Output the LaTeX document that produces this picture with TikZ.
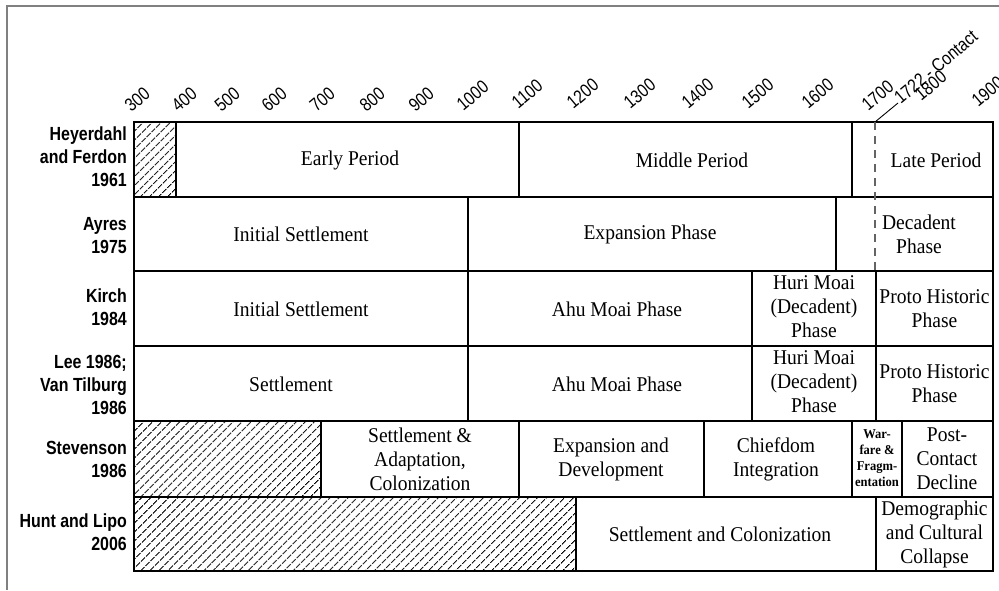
\documentclass[tikz,border=0pt]{standalone}
\usepackage{fontspec}
\setmainfont{Liberation Serif}[FakeStretch=0.93]
\newfontfamily\lblfont{Liberation Sans}[FakeStretch=0.84]
\newfontfamily\axfont{Liberation Sans}[FakeStretch=0.84]
\usetikzlibrary{patterns.meta}
\definecolor{framegray}{RGB}{128,128,128}
\definecolor{dashgray}{RGB}{100,100,100}
\begin{document}
\begin{tikzpicture}[x=1pt,y=-1pt,
  cell/.style={draw=black, line width=1.6pt},
  hatch/.style={pattern={Lines[angle=45,distance=6.4pt,line width=1.1pt]}},
  txt/.style={font=\fontsize{21}{24}\selectfont, align=center, inner sep=0},
  small/.style={font=\bfseries\fontsize{13.5}{16}\selectfont, align=center, inner sep=0},
  lbl/.style={font=\lblfont\bfseries\fontsize{19}{23}\selectfont, align=right, anchor=east, inner sep=0},
  ax/.style={font=\axfont\fontsize{18.5}{20}\selectfont, rotate=40, anchor=south west, inner sep=0},
]
\useasboundingbox (0,0) rectangle (999,590);
% outer frame (partial)
\draw[framegray, line width=1.4pt] (999,6) -- (7,6) -- (7,590);

% hatched areas
\fill[hatch] (134,122) rectangle (176,197);
\fill[hatch] (134,421) rectangle (321,497);
\fill[hatch] (134,497) rectangle (576,571);

% row 1
\draw[cell] (134,122) rectangle (176,197);
\draw[cell] (176,122) rectangle (519,197);
\draw[cell] (519,122) rectangle (852,197);
\draw[cell] (852,122) rectangle (993,197);
% row 2
\draw[cell] (134,197) rectangle (468,271);
\draw[cell] (468,197) rectangle (836,271);
\draw[cell] (836,197) rectangle (993,271);
% row 3
\draw[cell] (134,271) rectangle (468,346);
\draw[cell] (468,271) rectangle (752,346);
\draw[cell] (752,271) rectangle (876,346);
\draw[cell] (876,271) rectangle (993,346);
% row 4
\draw[cell] (134,346) rectangle (468,421);
\draw[cell] (468,346) rectangle (752,421);
\draw[cell] (752,346) rectangle (876,421);
\draw[cell] (876,346) rectangle (993,421);
% row 5
\draw[cell] (134,421) rectangle (321,497);
\draw[cell] (321,421) rectangle (519,497);
\draw[cell] (519,421) rectangle (704,497);
\draw[cell] (704,421) rectangle (852,497);
\draw[cell] (852,421) rectangle (902,497);
\draw[cell] (902,421) rectangle (993,497);
% row 6
\draw[cell] (134,497) rectangle (576,571);
\draw[cell] (576,497) rectangle (876,571);
\draw[cell] (876,497) rectangle (993,571);

% contact line
\coordinate (ctop) at (875,122);
\coordinate (cbot) at (875,271);
\coordinate (cend) at (898,103);
\draw[dashgray, line width=1.1pt, dash pattern=on 8pt off 6pt] (ctop) -- (cbot);
\draw[black, line width=0.9pt] (ctop) -- (cend);
\node[ax] (contact) at (901,105) {1722 - Contact};

% axis labels
\node[ax] (y300) at (131.5,113) {300};
\node[ax] (y400) at (178.5,113) {400};
\node[ax] (y500) at (221.5,113) {500};
\node[ax] (y600) at (268.5,113) {600};
\node[ax] (y700) at (316.5,113) {700};
\node[ax] (y800) at (366.5,113) {800};
\node[ax] (y900) at (415.5,113) {900};
\node[ax] (y1000) at (463.5,112) {1000};
\node[ax] (y1100) at (518.5,110) {1100};
\node[ax] (y1200) at (573.5,110) {1200};
\node[ax] (y1300) at (630.5,110) {1300};
\node[ax] (y1400) at (688.5,110) {1400};
\node[ax] (y1500) at (748.5,110) {1500};
\node[ax] (y1600) at (808.5,110) {1600};
\node[ax] (y1700) at (868.5,112) {1700};
\node[ax] (y1800) at (921.5,102) {1800};
\node[ax] (y1900) at (978.5,108) {1900};

% row labels
\node[lbl] (lHF) at (127,157) {Heyerdahl\\and Ferdon\\1961};
\node[lbl] (lAy) at (127,236) {Ayres\\1975};
\node[lbl] (lKi) at (127,307) {Kirch\\1984};
\node[lbl] (lLe) at (127,385) {Lee 1986;\\Van Tilburg\\1986};
\node[lbl] (lSt) at (127,459) {Stevenson\\1986};
\node[lbl] (lHL) at (127,532) {Hunt and Lipo\\2006};

% cell texts
\node[txt] (t11) at (350,160) {Early Period};
\node[txt] (t12) at (692,160) {Middle Period};
\node[txt] (t13) at (936,160) {Late Period};
\node[txt] (t21) at (301,234) {Initial Settlement};
\node[txt] (t22) at (650,234) {Expansion Phase};
\node[txt] (t23) at (919,234) {Decadent\\Phase};
\node[txt] (t31) at (301,309) {Initial Settlement};
\node[txt] (t32) at (617,309) {Ahu Moai Phase};
\node[txt] (t33) at (814,307) {Huri Moai\\(Decadent)\\Phase};
\node[txt] (t34) at (934.5,309) {Proto Historic\\Phase};
\node[txt] (t41) at (291,384) {Settlement};
\node[txt] (t42) at (617,384) {Ahu Moai Phase};
\node[txt] (t43) at (814,382) {Huri Moai\\(Decadent)\\Phase};
\node[txt] (t44) at (934.5,384) {Proto Historic\\Phase};
\node[txt] (t51) at (420,459) {Settlement \&\\Adaptation,\\Colonization};
\node[txt] (t52) at (611,459) {Expansion and\\Development};
\node[txt] (t53) at (776,459) {Chiefdom\\Integration};
\node[small] (t54) at (877,458) {War-\\fare \&\\Fragm-\\entation};
\node[txt] (t55) at (947,459) {Post-\\Contact\\Decline};
\node[txt] (t61) at (720,534) {Settlement and Colonization};
\node[txt] (t62) at (934.5,534) {Demographic\\and Cultural\\Collapse};
\end{tikzpicture}
\end{document}
